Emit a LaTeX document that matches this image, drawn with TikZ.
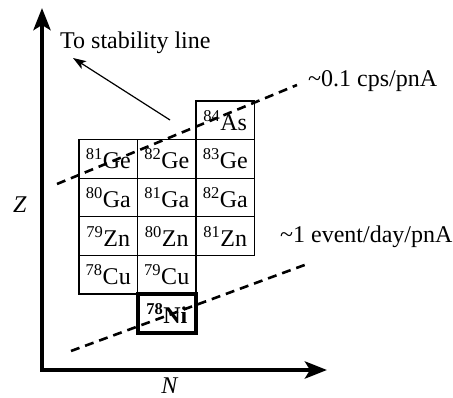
\documentclass[tikz,border=0pt]{standalone}
\usepackage{fontspec}
\setmainfont{Liberation Serif}
\usetikzlibrary{arrows.meta}

\newcommand{\iso}[2]{\textsuperscript{\fontsize{16.5}{16.5}\selectfont #1}#2}
\tikzset{
  cell/.style={draw,line width=1.2pt,minimum width=58.5pt,minimum height=38.6pt,inner sep=0pt,outer sep=0pt},
  rateline/.style={line width=2.6pt,dash pattern=on 9pt off 6pt},
  axis/.style={line width=4.5pt,line join=miter,{Stealth[length=22pt,width=17pt,inset=5pt]}-{Stealth[length=22pt,width=17pt,inset=5pt]}}
}

\begin{document}
\begin{tikzpicture}[x=1pt,y=1pt,font=\fontsize{24}{28}\selectfont]
  \useasboundingbox (0,0) rectangle (453,397);
  \foreach \m/\el/\c/\r in {84/As/2/0,81/Ge/0/1,82/Ge/1/1,83/Ge/2/1,80/Ga/0/2,81/Ga/1/2,82/Ga/2/2,79/Zn/0/3,80/Zn/1/3,81/Zn/2/3,78/Cu/0/4,79/Cu/1/4}{
    \node[cell] (\m\el) at (108.25+58.5*\c,276.7-38.6*\r) {\iso{\m}{\el}};}
  \node[cell,line width=4pt] (78Ni) at (166.75,83.7) {\bfseries\iso{78}{Ni}};
  \coordinate (ztip) at (42,389); \coordinate (origin) at (42,27); \coordinate (ntip) at (327,27);
  \draw[axis] (ztip) -- (origin) -- (ntip);
  \node (zlab) at (20,192) {\textit{Z}};
  \node[anchor=base] (nlab) at (170,4) {\textit{N}};
  \coordinate (stabfrom) at (170,277); \coordinate (stabto) at (73,339);
  \draw[line width=1.2pt,-{Stealth[length=13pt,width=9pt,inset=3pt]}] (stabfrom) -- (stabto);
  \node[anchor=west,inner sep=0pt] (stablab) at (60,354) {To stability line};
  \coordinate (cpsA) at (57,213); \coordinate (cpsB) at (297,312);
  \draw[rateline] (cpsA) -- (cpsB);
  \node[anchor=west,inner sep=0pt] (cpslab) at (308,316) {\textasciitilde0.1 cps/pnA};
  \coordinate (evA) at (71,46); \coordinate (evB) at (310,134);
  \draw[rateline] (evA) -- (evB);
  \node[anchor=west,inner sep=0pt] (evlab) at (280,160) {\textasciitilde1 event/day/pnA};
\end{tikzpicture}
\end{document}
